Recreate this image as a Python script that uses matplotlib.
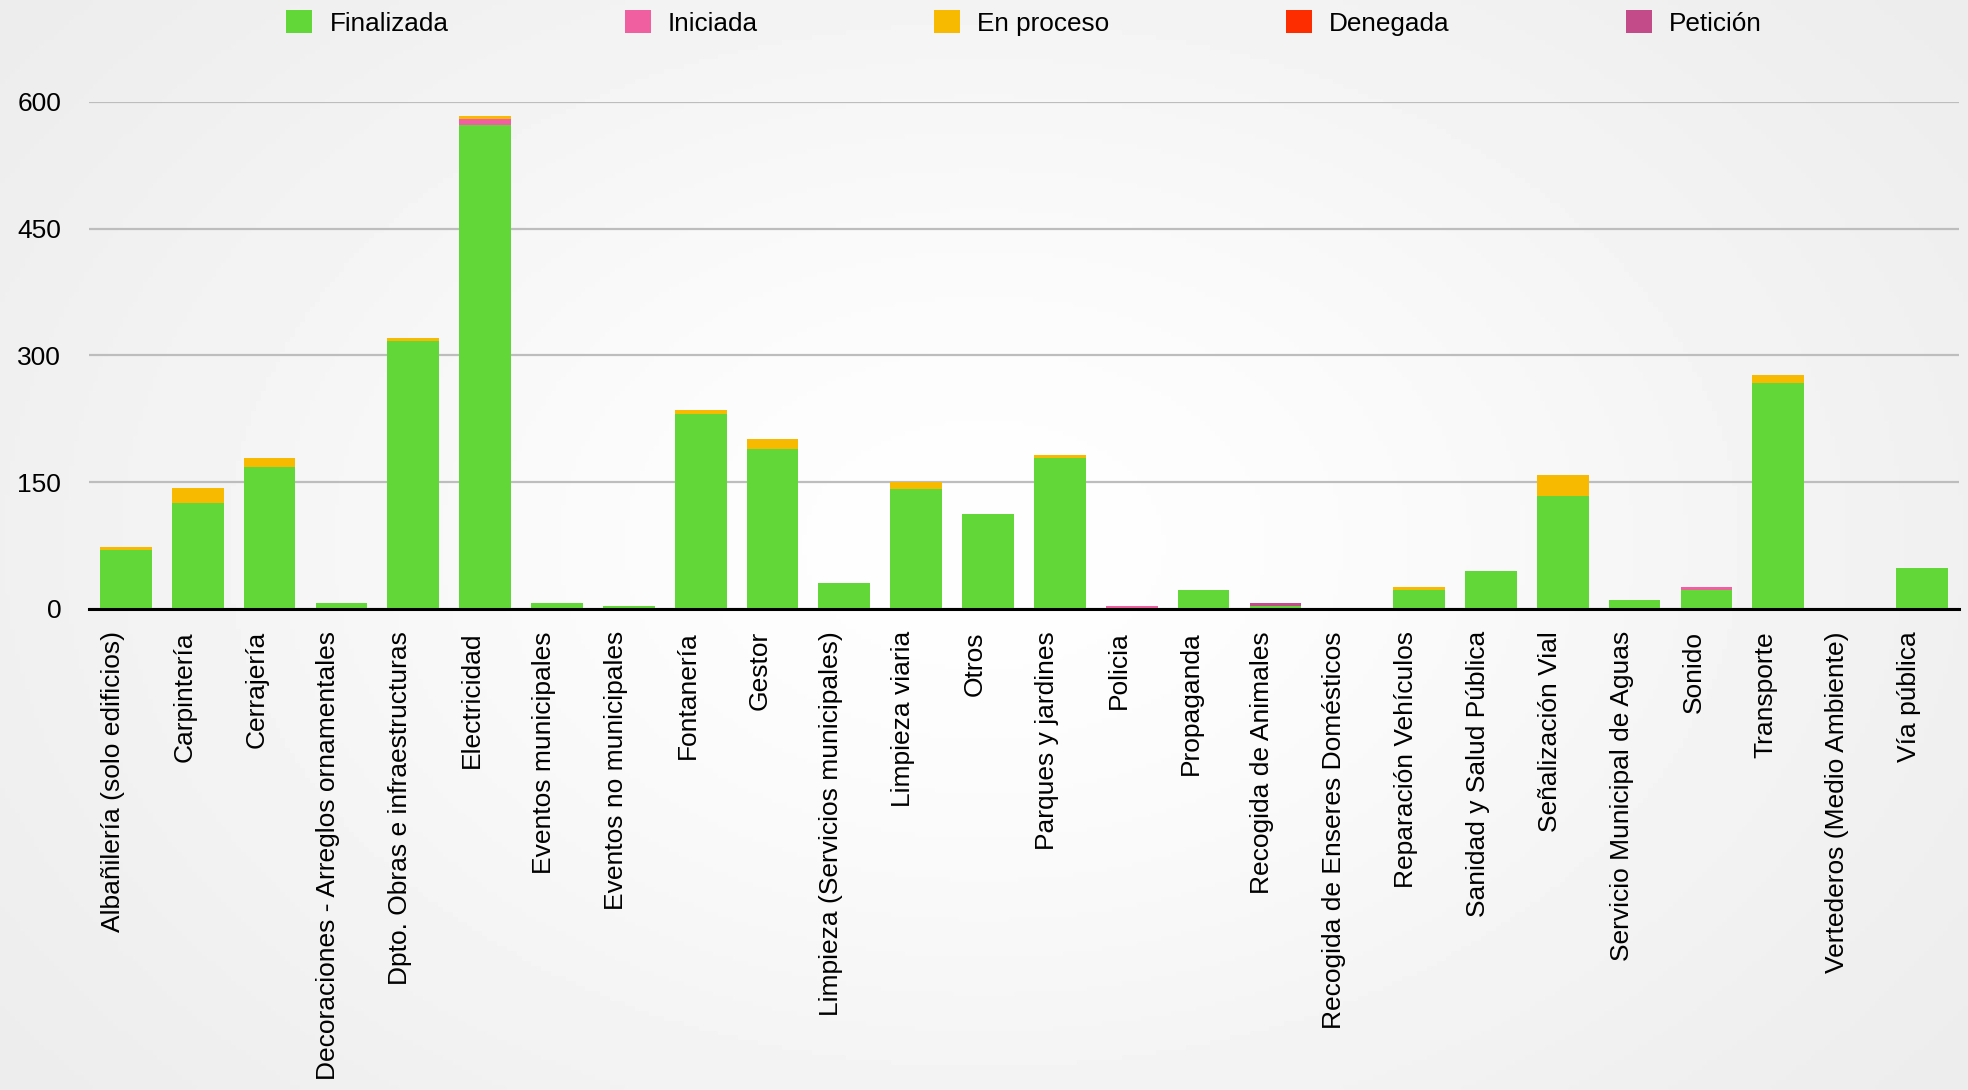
import numpy as np
import matplotlib
matplotlib.use("Agg")
import matplotlib.pyplot as plt
from matplotlib.transforms import ScaledTranslation

plt.rcParams['font.family'] = ['Liberation Sans', 'DejaVu Sans']

categories = [
    "Albañilería (solo edificios)", "Carpintería", "Cerrajería",
    "Decoraciones - Arreglos ornamentales", "Dpto. Obras e infraestructuras",
    "Electricidad", "Eventos municipales", "Eventos no municipales",
    "Fontanería", "Gestor", "Limpieza (Servicios municipales)",
    "Limpieza viaria", "Otros", "Parques y jardines", "Policia",
    "Propaganda", "Recogida de Animales", "Recogida de Enseres Domésticos",
    "Reparación Vehículos", "Sanidad y Salud Pública", "Señalización Vial",
    "Servicio Municipal de Aguas", "Sonido", "Transporte",
    "Vertederos (Medio Ambiente)", "Vía pública",
]

finalizada = [70, 125, 168, 7, 317, 573, 7, 4, 231, 189, 31, 142, 112, 178, 0,
              23, 3, 0, 22, 45, 134, 11, 22, 267, 0, 49]
iniciada =   [0, 0, 0, 0, 0, 7, 0, 0, 0, 0, 0, 0, 0, 0, 3,
              0, 0, 0, 0, 0, 0, 0, 4, 0, 0, 0]
en_proceso = [3, 18, 10, 0, 4, 3, 0, 0, 4, 12, 0, 8, 0, 4, 0,
              0, 0, 0, 4, 0, 25, 0, 0, 10, 0, 0]
denegada =   [0] * 26
peticion =   [0, 0, 0, 0, 0, 0, 0, 0, 0, 0, 0, 0, 0, 0, 0,
              0, 4, 0, 0, 0, 0, 0, 0, 0, 0, 0]

series = [
    ("Finalizada", finalizada, "#62D838"),
    ("Iniciada", iniciada, "#F060A0"),
    ("En proceso", en_proceso, "#F8BA00"),
    ("Denegada", denegada, "#FE2D00"),
    ("Petición", peticion, "#C44B8A"),
]
yticks = [0, 150, 300, 450, 600]

fig = plt.figure(figsize=(19.68, 10.90), dpi=100)
fig.patch.set_facecolor("#f4f5f6")

# soft backdrop gradient (light grey edges, whiter centre)
bg = fig.add_axes([0, 0, 1, 1], zorder=-10)
gx = np.linspace(-1, 1, 400)
gy = np.linspace(-1, 1, 220)
GX, GY = np.meshgrid(gx, gy)
shade = 0.91 + 0.085 * np.exp(-((GX * 1.0) ** 2 + (GY * 0.8) ** 2))
bg.imshow(shade, cmap="gray", vmin=0, vmax=1, aspect="auto", extent=[0, 1, 0, 1])
bg.axis("off")

ax = fig.add_axes([0.0452, 0.4413, 0.9502, 0.4654])
ax.patch.set_alpha(0)

x = np.arange(len(categories))
bottom = np.zeros(len(categories))
handles = []
for name, vals, color in series:
    vals = np.array(vals, dtype=float)
    b = ax.bar(x, vals, width=0.72, bottom=bottom, color=color, label=name,
               zorder=3, linewidth=0)
    handles.append(b)
    bottom += vals

ax.set_xlim(-0.515, len(categories) - 0.485)
ax.set_ylim(0, 600)
ax.set_yticks(yticks)
ax.set_yticklabels([str(v) for v in yticks], fontsize=19)
ax.yaxis.grid(True, color="#bdbdbd", linewidth=1.6, zorder=0)
ax.set_axisbelow(True)
ax.tick_params(axis="y", length=0, pad=20)
ax.tick_params(axis="x", length=0, pad=16)
for s in ["top", "right", "left"]:
    ax.spines[s].set_visible(False)
ax.spines["bottom"].set_color("black")
ax.spines["bottom"].set_linewidth(2.2)
ax.spines["bottom"].set_zorder(5)

ax.set_xticks(x)
ax.set_xticklabels(categories, rotation=90, fontsize=19, va="top", ha="center")
offset = ScaledTranslation(-13 / 100, 0, fig.dpi_scale_trans)
for lab in ax.get_xticklabels():
    lab.set_transform(lab.get_transform() + offset)

fig.legend(handles=handles, labels=[s[0] for s in series], loc="center",
           bbox_to_anchor=(0.5203, 0.979), ncol=5, frameon=False, fontsize=18.8,
           handlelength=1.0, handleheight=1.0, handletextpad=0.65,
           columnspacing=6.75, borderpad=0)

fig.savefig("out.png", dpi=100, facecolor=fig.get_facecolor())
